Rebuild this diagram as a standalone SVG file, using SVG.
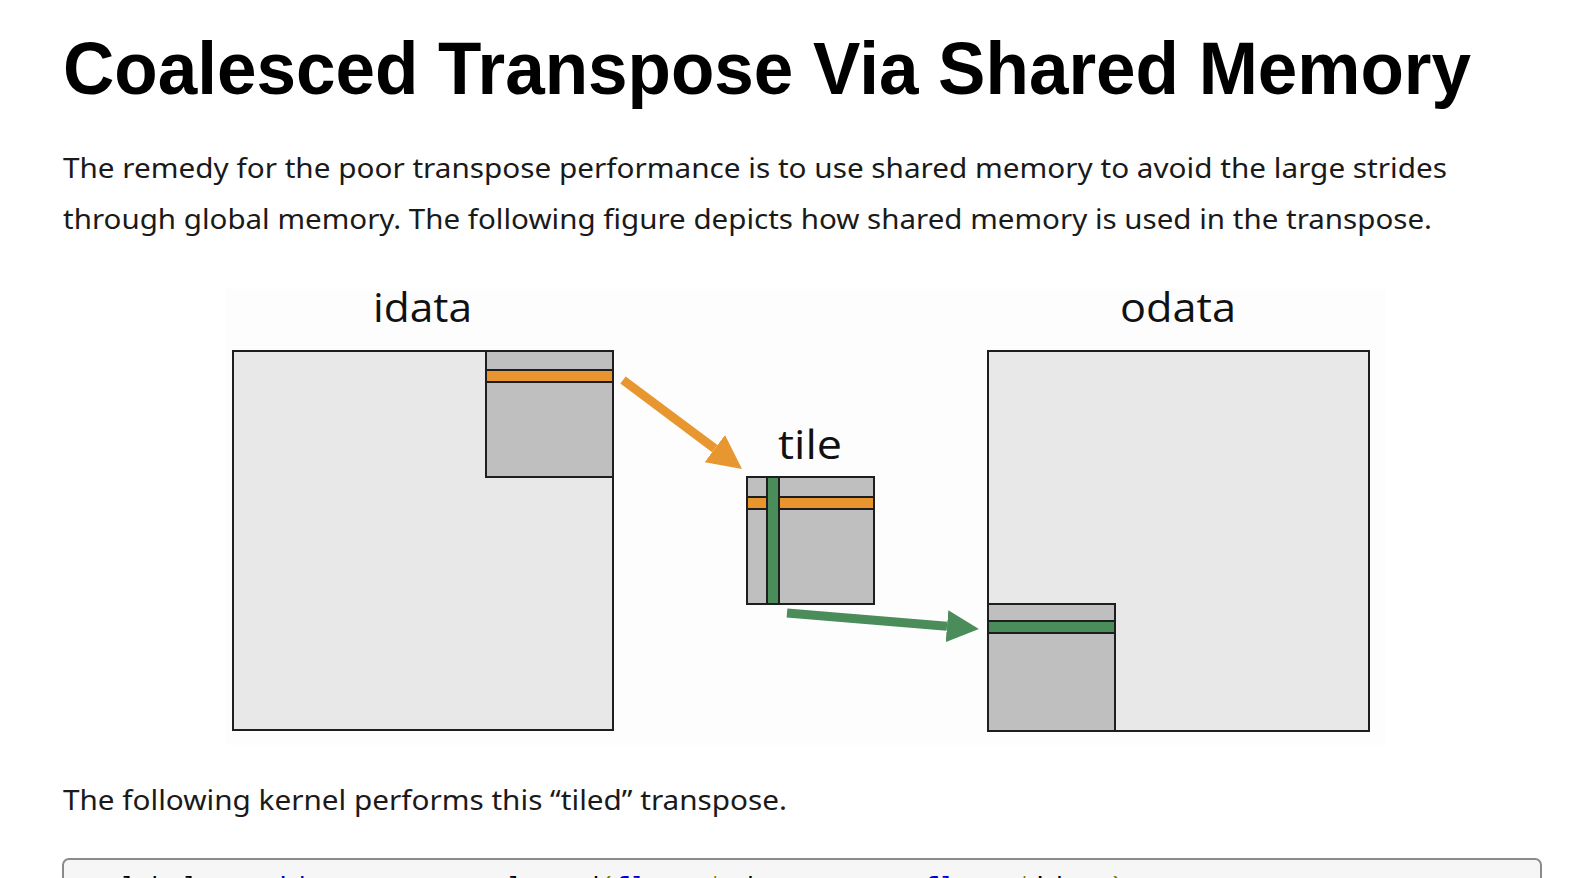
<svg xmlns="http://www.w3.org/2000/svg" width="1588" height="878" viewBox="0 0 1588 878">
  <style>
    .title { font-family: "Liberation Sans", Arial, sans-serif; font-weight: bold; font-size: 74px; fill: #000; }
    .body { font-family: "Noto Sans", "Open Sans", sans-serif; font-size: 28px; fill: #1a1a1a; }
    .lbl { font-family: "Open Sans", "Noto Sans", sans-serif; font-size: 40px; fill: #111; }
    .big { fill: #e8e8e8; stroke: #1e1e1e; stroke-width: 2; }
    .tileb { fill: #bfbfbf; stroke: #1e1e1e; stroke-width: 2; }
    .org { fill: #e8942f; stroke: #1e1e1e; stroke-width: 2; }
    .grn { fill: #4a8c5a; stroke: #1e1e1e; stroke-width: 2; }
    .code { font-family: "Liberation Mono", "DejaVu Sans Mono", monospace; font-size: 25.75px; fill: #000; }
    .kw { fill: #0000c8; }
    .pu { fill: #7a7a00; }
  </style>
  <defs>
    <marker id="headO" markerUnits="userSpaceOnUse" markerWidth="34" markerHeight="34" viewBox="0 0 34 34" refX="0" refY="17" orient="auto">
      <path d="M0,0 L34,17 L0,34 z" fill="#e8962f"/>
    </marker>
    <marker id="headG" markerUnits="userSpaceOnUse" markerWidth="32" markerHeight="32" viewBox="0 0 32 32" refX="0" refY="16" orient="auto">
      <path d="M0,0 L32,16 L0,32 z" fill="#4a8c5a"/>
    </marker>
  </defs>

  <rect x="0" y="0" width="1588" height="878" fill="#ffffff"/>

  <g id="heading">
    <text class="title" x="63" y="94" textLength="1408" lengthAdjust="spacingAndGlyphs">Coalesced Transpose Via Shared Memory</text>
  </g>

  <g id="intro">
    <text class="body" x="63" y="178" textLength="1384" lengthAdjust="spacingAndGlyphs">The remedy for the poor transpose performance is to use shared memory to avoid the large strides</text>
    <text class="body" x="63" y="229" textLength="1369" lengthAdjust="spacingAndGlyphs">through global memory. The following figure depicts how shared memory is used in the transpose.</text>
  </g>

  <rect x="225" y="289" width="1160" height="456" fill="#fdfdfd"/>

  <g id="idata">
    <text class="lbl" x="373" y="322" textLength="99" lengthAdjust="spacingAndGlyphs">idata</text>
    <rect class="big" x="233" y="351" width="380" height="379"/>
    <rect class="tileb" x="486" y="351" width="127" height="126"/>
    <rect class="org" x="486" y="370" width="127" height="12"/>
  </g>

  <g id="tile">
    <text class="lbl" x="778" y="459" textLength="64" lengthAdjust="spacingAndGlyphs">tile</text>
    <rect class="tileb" x="747" y="477" width="127" height="127"/>
    <rect class="org" x="747" y="497" width="127" height="12"/>
    <rect class="grn" x="767" y="477" width="12" height="127"/>
  </g>

  <g id="odata">
    <text class="lbl" x="1120" y="322" textLength="116" lengthAdjust="spacingAndGlyphs">odata</text>
    <rect class="big" x="988" y="351" width="381" height="380"/>
    <rect class="tileb" x="988" y="604" width="127" height="127"/>
    <rect class="grn" x="988" y="621" width="127" height="12"/>
  </g>

  <g id="connectors">
    <line x1="623" y1="380" x2="714.8" y2="448.6" stroke="#e8962f" stroke-width="9" marker-end="url(#headO)"/>
    <line x1="787" y1="613" x2="947" y2="626.3" stroke="#4a8c5a" stroke-width="9" marker-end="url(#headG)"/>
  </g>

  <g id="kernel-text">
    <text class="body" x="63" y="810" textLength="724" lengthAdjust="spacingAndGlyphs">The following kernel performs this “tiled” transpose.</text>
  </g>

  <g id="code-block">
    <rect x="63" y="859" width="1478" height="60" rx="6" fill="#f6f6f6" stroke="#8a8a8a" stroke-width="2"/>
    <text class="code" x="74" y="895">__global__ <tspan class="kw">void</tspan> transposeCoalesced<tspan class="pu">(</tspan><tspan class="kw">float</tspan> <tspan class="pu">*</tspan>odata<tspan class="pu">,</tspan> <tspan class="kw">const</tspan> <tspan class="kw">float</tspan> <tspan class="pu">*</tspan>idata<tspan class="pu">)</tspan></text>
  </g>
</svg>
